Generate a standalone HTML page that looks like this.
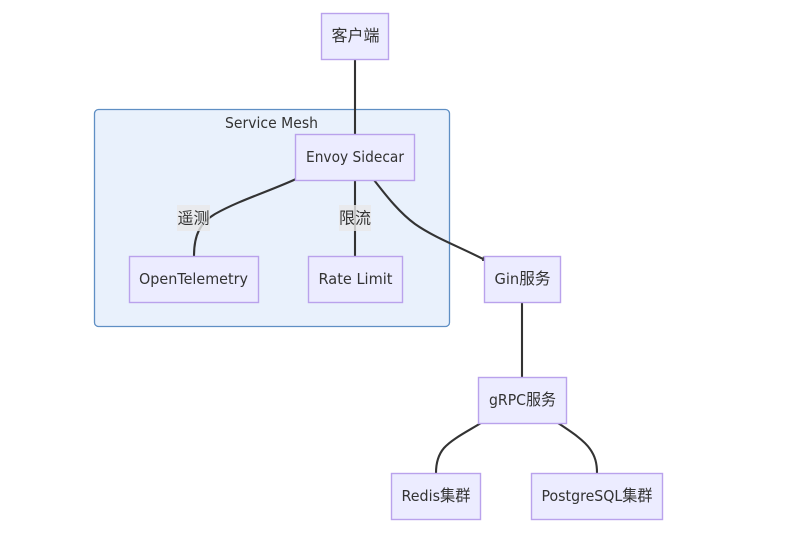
<!DOCTYPE html>
<html>
<head>
<meta charset="utf-8">
<style>
html,body{margin:0;padding:0;background:#fff;width:797px;height:543px;overflow:hidden}
svg{display:block}
text{font-family:"DejaVu Sans","Noto Sans CJK SC",sans-serif;font-size:15px;fill:#333;text-anchor:middle}
tspan{font-family:"Noto Sans CJK SC",sans-serif;font-size:16px}
.n{fill:#ECECFF;stroke:#B9A2EC;stroke-width:1.4}
.e{fill:none;stroke:#333;stroke-width:2.1}
</style>
</head>
<body>
<svg width="797" height="543" viewBox="0 0 797 543" xmlns="http://www.w3.org/2000/svg">
<rect x="94.500" y="109.500" width="355" height="217" rx="4" ry="4" fill="#E9F1FC" stroke="#5F8FC4" stroke-width="1.300"/>
<text x="271.500" y="128" textLength="93" lengthAdjust="spacingAndGlyphs">Service Mesh</text>

<path class="e" d="M355 59V134"/>
<path class="e" d="M296 179C270 191 240 200 215 214C200 223 194 235 194 256"/>
<path class="e" d="M355 180V256"/>
<path class="e" d="M374 180C388 198 400 213 415 224C435 238 460 247 485 260"/>
<path d="M483 256L486 261L482 261Z" fill="#333"/>
<path class="e" d="M522 302V377"/>
<path class="e" d="M481 423C468 431 452 439 444 448C438 455 436 463 436 473"/>
<path class="e" d="M558 423C570 431 584 440 590 449C595 456 597 463 597 473"/>

<rect x="177" y="205" width="33" height="26" fill="#E8E8E8" fill-opacity="0.8"/>
<text x="193.500" y="223.500"><tspan>遥测</tspan></text>
<rect x="339" y="205" width="32" height="26" fill="#E8E8E8" fill-opacity="0.8"/>
<text x="355" y="223.500"><tspan>限流</tspan></text>

<rect class="n" x="321.500" y="13.500" width="67" height="46"/>
<text x="355.500" y="41"><tspan>客户端</tspan></text>
<rect class="n" x="295.500" y="134.500" width="119" height="46"/>
<text x="355" y="162" textLength="98" lengthAdjust="spacingAndGlyphs">Envoy Sidecar</text>
<rect class="n" x="129.500" y="256.500" width="129" height="46"/>
<text x="193.500" y="284" textLength="109" lengthAdjust="spacingAndGlyphs">OpenTelemetry</text>
<rect class="n" x="308.500" y="256.500" width="94" height="46"/>
<text x="355.500" y="284" textLength="74" lengthAdjust="spacingAndGlyphs">Rate Limit</text>
<rect class="n" x="484.500" y="256.500" width="76" height="46"/>
<text x="522.500" y="284" textLength="56" lengthAdjust="spacingAndGlyphs">Gin<tspan>服务</tspan></text>
<rect class="n" x="478.500" y="377.500" width="88" height="46"/>
<text x="522.500" y="405" textLength="67" lengthAdjust="spacingAndGlyphs">gRPC<tspan>服务</tspan></text>
<rect class="n" x="391.500" y="473.500" width="89" height="46"/>
<text x="436" y="501" textLength="69" lengthAdjust="spacingAndGlyphs">Redis<tspan>集群</tspan></text>
<rect class="n" x="531.500" y="473.500" width="131" height="46"/>
<text x="597" y="501" textLength="111" lengthAdjust="spacingAndGlyphs">PostgreSQL<tspan>集群</tspan></text>
</svg>
</body>
</html>
